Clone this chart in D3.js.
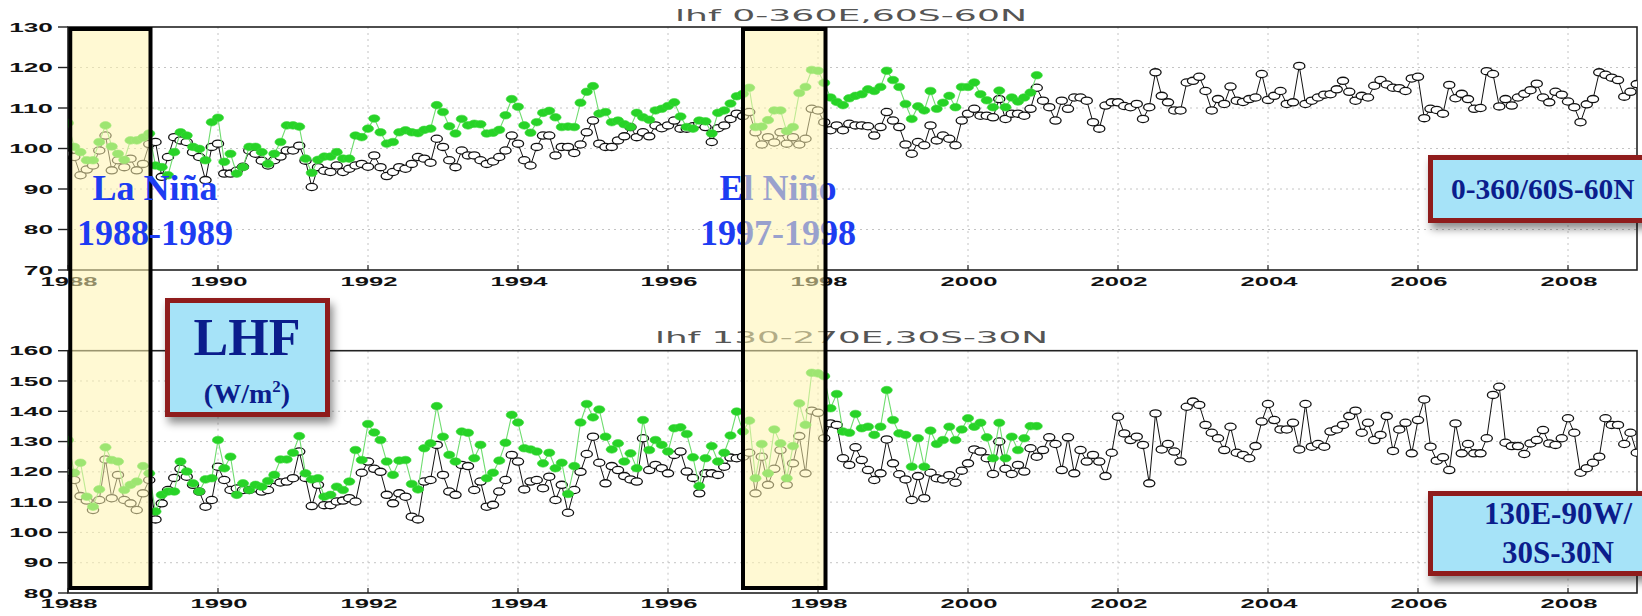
<!DOCTYPE html>
<html>
<head>
<meta charset="utf-8">
<script src="https://cdn.jsdelivr.net/npm/d3@7"></script>
<style>
  body { margin: 0; background: #fff; }
  svg { display: block; }
</style>
</head>
<body>
<svg id="chart" width="1642" height="616"></svg>
<script>
// Monthly latent heat flux, Jan 1988 onward (W/m^2)
const START_YEAR = 1988;

const yearTicks = [1988, 1990, 1992, 1994, 1996, 1998, 2000, 2002, 2004, 2006, 2008];
const globalTicks = [70, 80, 90, 100, 110, 120, 130];
const pacificTicks = [80, 90, 100, 110, 120, 130, 140, 150, 160];

const globalTitle = "lhf 0-360E,60S-60N";
const pacificTitle = "lhf 130-270E,30S-30N";

// 0-360E, 60S-60N : long record (open circles), 1988-2008
const globalLong = [
  98.5, 97.9, 93.4, 94.8, 95.8, 99.5, 103.2, 94.6, 97.1, 95.4, 97.5, 94.6,
  96.2, 101.1, 101.6, 93, 97.9, 102.8, 102, 101.6, 99.1, 97.9, 92.2, 100.4,
  101.2, 93.8, 93.8, 94.5, 95.5, 99.5, 98.7, 97, 95.8, 97.1, 98, 99.5,
  99.5, 100.7, 97, 90.5, 95.4, 94.5, 94.2, 95.8, 94.2, 95, 95.8, 96.2,
  95.5, 98.3, 95.4, 93.2, 94.2, 95.4, 95, 96.2, 97.9, 97.5, 96.5, 102.4,
  100.4, 97.1, 95.4, 99.5, 98.3, 98.3, 97.1, 96.2, 96.8, 97.9, 99.5, 103.2,
  101.2, 97.1, 95.8, 100.4, 103.2, 103.2, 98.3, 100.4, 100.4, 98.9, 101, 104,
  106.9, 101.2, 100.4, 100.4, 102, 103, 105.3, 102.8, 104, 103, 105.7, 105,
  105.7, 106.9, 104.9, 104.9, 105.5, 106.1, 105.3, 101.6, 105, 105.7, 107.3, 108.6,
  108, 109, 104, 101, 102.8, 101.5, 104, 101.2, 102.8, 101, 102.4, 109.8,
  109.4, 106.5, 104.5, 105.7, 104.5, 106.1, 105.7, 105.7, 105.5, 103.2, 105.3, 109,
  106.9, 105.3, 101, 98.7, 101.6, 100.8, 105.7, 102, 103.2, 102.4, 100.8, 106.9,
  108.6, 109.8, 108.1, 108.1, 107.7, 112.2, 107.3, 108.6, 108.6, 108.1, 109.8, 115,
  111.8, 110.2, 106.9, 111.8, 109.8, 112.6, 112.6, 111.8, 106.5, 104.9, 110.6, 111.4,
  111.4, 110.5, 110.2, 111, 107.3, 110.2, 118.8, 113, 111.4, 109.4, 109.4, 116.3,
  116.7, 117.7, 114.2, 109.4, 112.2, 111, 115.3, 111.8, 111.5, 112.2, 112.6, 118.4,
  112, 113, 114.2, 111, 111.4, 120.4, 111, 111.8, 112.6, 113.3, 113.4, 114.6,
  116.7, 114, 111.8, 113, 112.6, 115.5, 116.9, 115.8, 115, 114.9, 114.2, 117.3,
  117.7, 107.5, 109.8, 109.5, 108.6, 115.7, 112.4, 113.5, 112.2, 109.8, 110, 119.1,
  118.4, 110.4, 112.2, 110.6, 112.6, 113.5, 114.4, 116, 112.6, 111.4, 114, 113.3,
  111.6, 110.2, 106.5, 110.9, 112.2, 118.8, 118.2, 117.5, 116.9, 112.8, 114, 115.9
];

// 0-360E, 60S-60N : short record (filled dots), 1988-2000
const globalShort = [
  106.3, 100.4, 99.1, 97.1, 97.1, 101.6, 105.7, 100.5, 98.7, 97.2, 102, 102,
  102.7, 103.7, 95.8, 95.4, 93.4, 99.1, 104, 103.2, 100.4, 99.9, 97.1, 106.5,
  107.6, 96.7, 98.7, 93.8, 95.4, 100.4, 100.4, 99.1, 96.2, 98.7, 101.6, 105.7,
  105.7, 105.4, 97.5, 94, 97.2, 98, 98, 99.1, 97.5, 97.5, 103.2, 102.8,
  104.9, 107.4, 104, 101.2, 101.6, 104, 104.5, 104, 103.8, 104.6, 104.9, 110.7,
  109, 105.5, 103.7, 107.3, 105.7, 106.1, 106, 103.7, 103.9, 104.6, 108.2, 112.2,
  110.3, 105.7, 103.9, 106.5, 108.8, 109.3, 107.7, 105.3, 105.4, 105.3, 111.3, 114,
  115.4, 108.6, 109, 106.5, 106.9, 106, 105.3, 108.8, 107.7, 107.1, 109.4, 109.8,
  110.5, 111.4, 107.9, 105.3, 104.9, 106.9, 106.7, 103.7, 108.8, 109.4, 111.1, 112.9,
  113.5, 115, 105.3, 105.4, 107, 109.4, 109.4, 104.3, 105.3, 113.7, 115.2, 119.4,
  119.2, 116.2, 112.6, 111.5, 110.7, 112.4, 113, 113.4, 114.6, 114.2, 115.2, 119.2,
  116.9, 115.2, 111, 107.3, 110.4, 109.4, 114.2, 109.8, 111.3, 113, 110.2, 115.2,
  115.2, 116.3, 113.4, 111.9, 110.2, 114.3, 110.2, 112.6, 111.6, 112.6, 113.8, 118.1
];

// 130-270E, 30S-30N : long record (open circles), 1988-2008
const pacificLong = [
  120, 117.3, 112, 110.5, 107.4, 110.7, 124.1, 111.3, 119, 110.7, 109.6, 107.4,
  112.9, 117.3, 104.3, 109.6, 114, 118, 121, 118.4, 115.7, 113.5, 108.5, 110.7,
  121.7, 117.3, 114, 114.5, 114, 114, 114.6, 113.5, 114, 117.3, 116.5, 116.8,
  117.9, 126.7, 118, 108.7, 115.7, 109, 109, 110.2, 110.5, 111.3, 110.2, 119.7,
  123.4, 121, 120, 112.4, 109.6, 112.9, 111.8, 105.2, 104.3, 116.8, 117.3, 128.9,
  119, 113.5, 112.4, 122.3, 121.9, 114, 116.8, 108.5, 109.1, 113.5, 117.3, 125.6,
  123.4, 114.2, 116.8, 117.3, 114.6, 118.4, 110.7, 115.7, 106.5, 114, 120, 125.9,
  131.6, 123, 116.2, 121.9, 120.6, 118.6, 117.5, 116.8, 131.1, 120.6, 122.3, 121.2,
  119.5, 125.6, 126.7, 120.1, 118, 112.9, 119.5, 119.5, 119, 121.7, 124.7, 124.5,
  125, 126.3, 112.9, 125, 115.7, 121, 127.2, 115.7, 122.8, 131.8, 119.5, 140.2,
  139.5, 131.1, 136, 135.5, 124.5, 122.3, 128.1, 123.9, 120.6, 117.3, 119.5, 130.7,
  122.8, 119.2, 117.5, 110.7, 118.6, 111.3, 119.7, 117.9, 117.5, 118.9, 116.4, 120.4,
  122.8, 127.4, 126.7, 124.5, 119.3, 130, 121, 119.3, 122.3, 120.1, 127.8, 125,
  127.2, 131.4, 129.2, 120.6, 131.4, 119.5, 127.2, 123.4, 125.6, 123.4, 118.6, 126.3,
  138.2, 132.7, 130.5, 131.6, 128.9, 116.2, 139.3, 127.4, 129.2, 126.7, 123.4, 141.5,
  143.2, 142.1, 135.5, 132.9, 131.1, 127.2, 134.9, 126.3, 125.6, 124.5, 128.5, 136.6,
  142.4, 137.1, 134, 134, 136.2, 127.4, 142.4, 128.3, 129.2, 128.3, 133.3, 134,
  135.5, 138.4, 140.2, 132.9, 136.2, 130.5, 132.2, 138.4, 126.9, 134, 136.2, 126.1,
  137.1, 143.9, 128.3, 123.7, 124.8, 120.6, 136, 126.1, 129.2, 126.1, 126.1, 131.1,
  145.4, 148.1, 129.6, 128.5, 128.5, 125.9, 129.4, 130.5, 133.8, 129.4, 128.9, 131.1,
  137.7, 132.9, 119.7, 121.2, 123, 125, 137.7, 135.5, 135.5, 129.2, 132.9, 126.3
];

// 130-270E, 30S-30N : short record (filled dots), 1988-2000
const pacificShort = [
  130.5, 119.7, 123, 111.8, 108.5, 114.2, 128.1, 123.9, 123.4, 114, 115.7, 116.8,
  121.9, 119.5, 106.9, 112.4, 113.5, 113.5, 123.4, 120.1, 116.2, 113.5, 117.5, 117.9,
  130.5, 121.2, 125, 112.4, 116.2, 114, 115.7, 115.1, 117, 119, 124.1, 124.1,
  126.3, 131.8, 119.5, 117.5, 117.9, 111.8, 112.4, 115.1, 114, 116.8, 127.2, 123.9,
  135.8, 133, 130.5, 123.4, 119, 123.7, 123.9, 116, 114.2, 127.8, 129.4, 141.7,
  131.6, 125.6, 123.4, 133.3, 132.9, 124.5, 128.9, 117.9, 119.7, 123.7, 129.6, 138.8,
  136.3, 127.8, 127.4, 126.7, 122.8, 126.3, 121.2, 123, 112.7, 121.9, 136.3, 142.4,
  138, 140.6, 131.6, 127.4, 129.4, 123.4, 126.1, 121.2, 137.1, 127.2, 130.5, 128.9,
  126.7, 134.4, 134.7, 132.5, 124.8, 115.3, 124.5, 128.5, 123.4, 126.3, 132, 139.9,
  133.3, 136.9, 117.9, 129.2, 119.5, 134, 129.4, 117.9, 128.5, 142.6, 135.5, 152.7,
  152.5, 151.6, 141, 145.7, 133.3, 132.9, 139.1, 134.4, 134.9, 132.2, 134.9, 147,
  137.1, 132.7, 132.2, 121.7, 131.1, 121.7, 133.6, 129.2, 130.5, 134.9, 130.5, 134,
  137.7, 134.9, 136.2, 131.4, 124.5, 136.2, 124.5, 131.6, 127.2, 131.1, 135.1, 135.1
];

// ENSO episodes highlighted across both panels (decimal years)
const episodeNames = ["La Niña", "El Niño"];
const episodeYears = ["1988-1989", "1997-1998"];
const episodeStart = [1988.03, 1997.0];
const episodeEnd = [1989.1, 1998.1];

const svg = d3.select("#chart");
const defs = svg.append("defs");

const shadow = defs.append("filter").attr("id", "shadow")
  .attr("x", "-20%").attr("y", "-20%").attr("width", "150%").attr("height", "170%");
shadow.append("feDropShadow").attr("dx", 3).attr("dy", 6).attr("stdDeviation", 4)
  .attr("flood-color", "#000").attr("flood-opacity", 0.45);

const xLeft = 68, xRight = 1637;
const x = d3.scaleLinear().domain([START_YEAR, 2008.92]).range([xLeft, xRight]);
const monthX = i => x(START_YEAR + i / 12);

const panels = [
  { id: "g", domain: [70, 130], ticks: globalTicks, top: 27, bottom: 270,
    title: globalTitle, titleX: 675, titleY: 21, titleW: 352, labelY: 286,
    long: globalLong, short: globalShort },
  { id: "p", domain: [80, 160], ticks: pacificTicks, top: 350.7, bottom: 593,
    title: pacificTitle, titleX: 655, titleY: 343, titleW: 393, labelY: 608,
    long: pacificLong, short: pacificShort }
];

const tickFont = "'Liberation Sans', Arial, sans-serif";

panels.forEach(p => {
  const y = d3.scaleLinear().domain(p.domain).range([p.bottom, p.top]);
  const g = svg.append("g");

  // dotted grid
  g.append("g").selectAll("line").data(p.ticks.slice(1, -1)).join("line")
    .attr("x1", xLeft).attr("x2", xRight)
    .attr("y1", d => y(d)).attr("y2", d => y(d))
    .attr("stroke", "#c4c4c4").attr("stroke-width", 1).attr("stroke-dasharray", "2,4");
  g.append("g").selectAll("line").data(yearTicks.slice(1)).join("line")
    .attr("x1", d => x(d)).attr("x2", d => x(d))
    .attr("y1", p.top).attr("y2", p.bottom)
    .attr("stroke", "#c4c4c4").attr("stroke-width", 1).attr("stroke-dasharray", "2,4");

  // frame
  g.append("rect").attr("x", xLeft).attr("y", p.top)
    .attr("width", xRight - xLeft).attr("height", p.bottom - p.top)
    .attr("fill", "none").attr("stroke", "#222").attr("stroke-width", 1.6);

  // y axis ticks and labels
  const yAxis = g.append("g");
  yAxis.selectAll("line").data(p.ticks).join("line")
    .attr("x1", xLeft - 10).attr("x2", xLeft)
    .attr("y1", d => y(d)).attr("y2", d => y(d))
    .attr("stroke", "#222").attr("stroke-width", 1.4);
  yAxis.selectAll("text").data(p.ticks).join("text")
    .attr("x", 53).attr("y", d => y(d) + 4.6)
    .attr("text-anchor", "end")
    .attr("font-family", tickFont).attr("font-weight", "bold").attr("font-size", 12.5)
    .attr("textLength", d => String(d).length * 14.6)
    .attr("lengthAdjust", "spacingAndGlyphs")
    .attr("fill", "#111")
    .text(d => d);

  // x axis ticks and labels
  const xAxis = g.append("g");
  xAxis.selectAll("line").data(yearTicks).join("line")
    .attr("x1", d => x(d)).attr("x2", d => x(d))
    .attr("y1", p.bottom - 5).attr("y2", p.bottom)
    .attr("stroke", "#222").attr("stroke-width", 1.2);
  xAxis.selectAll("text").data(yearTicks).join("text")
    .attr("x", d => x(d) + 1).attr("y", p.labelY)
    .attr("text-anchor", "middle")
    .attr("font-family", tickFont).attr("font-weight", "bold").attr("font-size", 12.5)
    .attr("textLength", 57).attr("lengthAdjust", "spacingAndGlyphs")
    .attr("fill", "#111")
    .text(d => d);

  // panel title
  g.append("text").attr("x", p.titleX).attr("y", p.titleY)
    .attr("font-family", "'DejaVu Sans', sans-serif").attr("font-size", 15.5)
    .attr("textLength", p.titleW).attr("lengthAdjust", "spacingAndGlyphs")
    .attr("fill", "#555").text(p.title);

  // data, clipped to the plot frame
  defs.append("clipPath").attr("id", "clip-" + p.id)
    .append("rect").attr("x", xLeft).attr("y", p.top)
    .attr("width", xRight - xLeft).attr("height", p.bottom - p.top);
  const data = g.append("g").attr("clip-path", `url(#clip-${p.id})`);

  const line = d3.line().x((d, i) => monthX(i)).y(d => y(d));

  data.append("path").datum(p.long).attr("d", line)
    .attr("fill", "none").attr("stroke", "#111").attr("stroke-width", 1);
  data.append("g").selectAll("ellipse").data(p.long).join("ellipse")
    .attr("cx", (d, i) => monthX(i)).attr("cy", d => y(d))
    .attr("rx", 5.6).attr("ry", 3.6)
    .attr("fill", "#fff").attr("stroke", "#111").attr("stroke-width", 1.3);

  data.append("path").datum(p.short).attr("d", line)
    .attr("fill", "none").attr("stroke", "#6fdc6f").attr("stroke-width", 1.1);
  data.append("g").selectAll("ellipse").data(p.short).join("ellipse")
    .attr("cx", (d, i) => monthX(i)).attr("cy", d => y(d))
    .attr("rx", 5.6).attr("ry", 3.8)
    .attr("fill", "#27d327").attr("stroke", "#3ad83a").attr("stroke-width", 0.6);
});

// ENSO episode highlights
const bandTop = 29, bandBottom = 588;
const serif = "'Liberation Serif', 'Times New Roman', serif";
const episodeCenters = [155, 778];

function episodeLabel(i) {
  const t = svg.append("g").attr("font-family", serif).attr("font-weight", "bold")
    .attr("font-size", 36).attr("fill", "#1d3cf2").attr("text-anchor", "middle");
  t.append("text").attr("x", episodeCenters[i]).attr("y", 200).text(episodeNames[i]);
  t.append("text").attr("x", episodeCenters[i]).attr("y", 245).text(episodeYears[i]);
}

// El Niño label sits beneath the translucent band
episodeLabel(1);

svg.append("g").selectAll("rect").data(episodeStart).join("rect")
  .attr("x", (d) => x(d)).attr("y", bandTop)
  .attr("width", (d, i) => x(episodeEnd[i]) - x(d)).attr("height", bandBottom - bandTop)
  .attr("fill", "#fff4ae").attr("fill-opacity", 0.55);

svg.append("g").selectAll("rect").data(episodeStart).join("rect")
  .attr("x", (d) => x(d)).attr("y", bandTop)
  .attr("width", (d, i) => x(episodeEnd[i]) - x(d)).attr("height", bandBottom - bandTop)
  .attr("fill", "none").attr("stroke", "#000").attr("stroke-width", 4);

episodeLabel(0);

// Annotation boxes
function noteBox(bx, by, bw, bh) {
  return svg.append("rect").attr("x", bx).attr("y", by).attr("width", bw).attr("height", bh)
    .attr("fill", "#a6e3f8").attr("stroke", "#8f1b1b").attr("stroke-width", 5)
    .attr("filter", "url(#shadow)");
}
const navy = "#0b1d8c";

noteBox(167.5, 300.5, 160, 114);
svg.append("text").attr("x", 247).attr("y", 355)
  .attr("text-anchor", "middle").attr("font-family", serif).attr("font-weight", "bold")
  .attr("font-size", 52).attr("fill", navy).text("LHF");
const unit = svg.append("text").attr("x", 247).attr("y", 403)
  .attr("text-anchor", "middle").attr("font-family", serif).attr("font-weight", "bold")
  .attr("font-size", 28).attr("fill", navy);
unit.append("tspan").text("(W/m");
unit.append("tspan").attr("font-size", 17).attr("dy", -11).text("2");
unit.append("tspan").attr("dy", 11).text(")");

noteBox(1430.5, 157.5, 240, 63);
svg.append("text").attr("x", 1451).attr("y", 199)
  .attr("font-family", serif).attr("font-weight", "bold")
  .attr("font-size", 29.5).attr("fill", navy).text("0-360/60S-60N");

noteBox(1430.5, 493.5, 240, 80);
const box3 = svg.append("g").attr("font-family", serif).attr("font-weight", "bold")
  .attr("font-size", 31).attr("fill", navy).attr("text-anchor", "middle");
box3.append("text").attr("x", 1558).attr("y", 524).text("130E-90W/");
box3.append("text").attr("x", 1558).attr("y", 563).text("30S-30N");
</script>
</body>
</html>
